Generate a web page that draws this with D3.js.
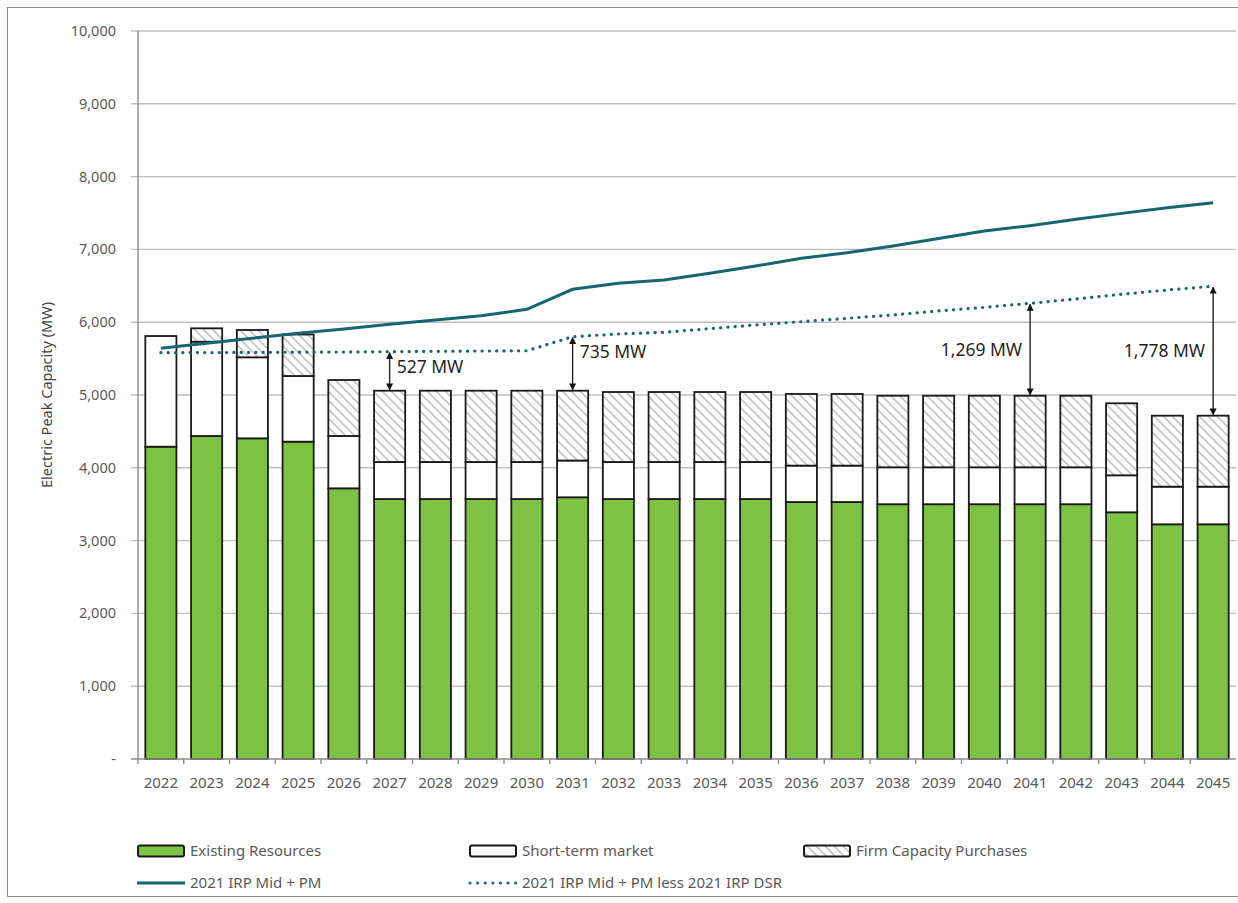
<!DOCTYPE html>
<html>
<head>
<meta charset="utf-8">
<script src="https://cdn.jsdelivr.net/npm/d3@7"></script>
<style>
  body { margin: 0; background: #fff; }
  svg { display: block; font-family: "Noto Sans", "Open Sans", sans-serif; }
</style>
</head>
<body>
<div id="chart"></div>
<script>
const years = ['2022','2023','2024','2025','2026','2027','2028','2029','2030','2031','2032','2033',
               '2034','2035','2036','2037','2038','2039','2040','2041','2042','2043','2044','2045'];

const existingResources = [4290,4437,4405,4359,3718,3571,3571,3571,3571,3595,3571,3571,
                           3571,3571,3530,3530,3500,3500,3500,3500,3500,3389,3224,3224];
const shortTermMarket   = [1520,1295,1113,902,719,509,509,509,509,505,509,509,
                           509,509,500,500,507,507,507,507,507,508,517,517];
const firmPurchases     = [0,184,375,570,769,979,979,979,979,959,961,961,
                           961,961,984,984,983,983,983,983,983,989,975,975];

const irpMidPM          = [5641,5710,5779,5848,5907,5971,6030,6089,6177,6452,6534,6580,
                           6672,6772,6877,6955,7047,7150,7253,7326,7413,7495,7573,7641];
const irpMidPMlessDSR   = [5581,5583,5585,5588,5591,5595,5600,5604,5608,5801,5838,5861,
                           5911,5962,6007,6053,6099,6154,6204,6259,6319,6383,6442,6494];

const yTicks = [0,1000,2000,3000,4000,5000,6000,7000,8000,9000,10000];

const gapNotes = [
    { year: '2027', text: '527 MW', side: 'right' },
    { year: '2031', text: '735 MW', side: 'right' },
    { year: '2041', text: '1,269 MW', side: 'left' },
    { year: '2045', text: '1,778 MW', side: 'left' }
];

const COLORS = {
    existing: '#7dc242',
    teal: '#17666f',
    grid: '#c0c0c0',
    axisText: '#595959',
    hatch: '#c4c4c4'
};

const width = 1238, height = 903;
const margin = { left: 138, right: 2, top: 31, bottom: 144 };

const svg = d3.select('#chart').append('svg')
    .attr('width', width)
    .attr('height', height);

// outer frame
svg.append('rect')
    .attr('x', 7.5).attr('y', 7.5)
    .attr('width', width).attr('height', 889)
    .attr('fill', 'none')
    .attr('stroke', '#8c8c8c');

const defs = svg.append('defs');
const pat = defs.append('pattern')
    .attr('id', 'hatch')
    .attr('patternUnits', 'userSpaceOnUse')
    .attr('width', 9).attr('height', 9);
pat.append('rect').attr('width', 9).attr('height', 9).attr('fill', '#fff');
pat.append('path')
    .attr('d', 'M-2,-2 L11,11 M-2,7 L2,11 M7,-2 L11,2')
    .attr('stroke', COLORS.hatch)
    .attr('stroke-width', 1.6);

const x = d3.scaleBand()
    .domain(years)
    .range([margin.left, width - margin.right])
    .paddingInner(0.32)
    .paddingOuter(0.16);

const y = d3.scaleLinear()
    .domain([0, 10000])
    .range([height - margin.bottom, margin.top]);

// gridlines
svg.append('g')
    .selectAll('line')
    .data(yTicks.slice(1))
    .join('line')
    .attr('x1', margin.left - 7)
    .attr('x2', width - margin.right)
    .attr('y1', d => y(d)).attr('y2', d => y(d))
    .attr('stroke', COLORS.grid)
    .attr('stroke-width', 1.4);

// y axis labels
svg.append('g')
    .selectAll('text')
    .data(yTicks)
    .join('text')
    .attr('x', margin.left - 22)
    .attr('y', d => y(d))
    .attr('dy', '0.35em')
    .attr('text-anchor', 'end')
    .attr('font-size', 14.5)
    .attr('fill', COLORS.axisText)
    .text(d => d === 0 ? '-' : d3.format(',')(d));

svg.append('text')
    .attr('transform', `translate(47,${y(5000)}) rotate(-90)`)
    .attr('dy', '0.35em')
    .attr('text-anchor', 'middle')
    .attr('font-size', 14.5)
    .attr('fill', '#404040')
    .text('Electric Peak Capacity (MW)');

// stacked bars
const rows = years.map((yr, i) => ({
    year: yr,
    existing: existingResources[i],
    short: shortTermMarket[i],
    firm: firmPurchases[i]
}));

const stack = d3.stack().keys(['existing', 'short', 'firm']);
const series = stack(rows);
const fills = { existing: COLORS.existing, short: '#fff', firm: 'url(#hatch)' };

svg.append('g')
    .selectAll('g')
    .data(series)
    .join('g')
    .attr('fill', d => fills[d.key])
    .selectAll('rect')
    .data(d => d.filter(s => s[1] - s[0] > 0))
    .join('rect')
    .attr('x', d => x(d.data.year))
    .attr('width', x.bandwidth())
    .attr('y', d => y(d[1]))
    .attr('height', d => y(d[0]) - y(d[1]))
    .attr('stroke', '#1a1a1a')
    .attr('stroke-width', 1.8);

// axes lines
const x0 = margin.left, xEnd = width - margin.right, yBase = y(0);
svg.append('line')
    .attr('x1', x0).attr('x2', x0)
    .attr('y1', y(10000)).attr('y2', yBase)
    .attr('stroke', '#8c8c8c').attr('stroke-width', 1.4);
svg.append('line')
    .attr('x1', x0 - 7).attr('x2', xEnd)
    .attr('y1', yBase).attr('y2', yBase)
    .attr('stroke', '#8c8c8c').attr('stroke-width', 1.4);

// x ticks between categories
const gap = (x.step() - x.bandwidth()) / 2;
svg.append('g')
    .selectAll('line')
    .data(years)
    .join('line')
    .attr('x1', d => x(d) - gap)
    .attr('x2', d => x(d) - gap)
    .attr('y1', yBase).attr('y2', yBase + 5)
    .attr('stroke', '#8c8c8c').attr('stroke-width', 1.4);

svg.append('g')
    .selectAll('text')
    .data(years)
    .join('text')
    .attr('x', d => x(d) + x.bandwidth() / 2)
    .attr('y', yBase + 24)
    .attr('dy', '0.35em')
    .attr('text-anchor', 'middle')
    .attr('font-size', 15)
    .attr('fill', COLORS.axisText)
    .text(d => d);

// lines
const cx = d => x(d) + x.bandwidth() / 2;
const line = d3.line()
    .x((d, i) => cx(years[i]))
    .y(d => y(d));

svg.append('path')
    .datum(irpMidPM)
    .attr('d', line)
    .attr('fill', 'none')
    .attr('stroke', COLORS.teal)
    .attr('stroke-width', 3);

svg.append('path')
    .datum(irpMidPMlessDSR)
    .attr('d', line)
    .attr('fill', 'none')
    .attr('stroke', COLORS.teal)
    .attr('stroke-width', 3.2)
    .attr('stroke-linecap', 'round')
    .attr('stroke-dasharray', '0.1 7.2');

// gap annotations
defs.append('marker')
    .attr('id', 'arrowHead')
    .attr('viewBox', '0 0 10 10')
    .attr('refX', 9).attr('refY', 5)
    .attr('markerWidth', 5).attr('markerHeight', 5)
    .attr('markerUnits', 'strokeWidth')
    .attr('orient', 'auto-start-reverse')
    .append('path')
    .attr('d', 'M0,0 L10,5 L0,10 Z')
    .attr('fill', '#111');

gapNotes.forEach(note => {
    const i = years.indexOf(note.year);
    const top = existingResources[i] + shortTermMarket[i] + firmPurchases[i];
    const yA = y(irpMidPMlessDSR[i]);
    const yB = y(top);
    const xc = cx(note.year);
    svg.append('line')
        .attr('x1', xc).attr('x2', xc)
        .attr('y1', yA + 1).attr('y2', yB - 1)
        .attr('stroke', '#222')
        .attr('stroke-width', 1.4)
        .attr('marker-start', 'url(#arrowHead)')
        .attr('marker-end', 'url(#arrowHead)');
    const ty = note.side === 'right' ? yA + 15 : (yA + yB) / 2;
    svg.append('text')
        .attr('x', note.side === 'right' ? xc + 7 : xc - 8)
        .attr('y', ty)
        .attr('dy', '0.35em')
        .attr('text-anchor', note.side === 'right' ? 'start' : 'end')
        .attr('font-size', 17.5)
        .attr('fill', '#1f1f1f')
        .text(note.text);
});

// legend
const legendItems = [
    { label: 'Existing Resources', type: 'rect', fill: COLORS.existing, col: 0, row: 0 },
    { label: 'Short-term market', type: 'rect', fill: '#fff', col: 1, row: 0 },
    { label: 'Firm Capacity Purchases', type: 'rect', fill: 'url(#hatch)', col: 2, row: 0 },
    { label: '2021 IRP Mid + PM', type: 'solid', col: 0, row: 1 },
    { label: '2021 IRP Mid + PM less 2021 IRP DSR', type: 'dot', col: 1, row: 1 }
];
const colX = [137, 469, 803];
const rowY = [851, 883];

const lg = svg.append('g')
    .selectAll('g')
    .data(legendItems)
    .join('g')
    .attr('transform', d => `translate(${colX[d.col]},${rowY[d.row]})`);

lg.filter(d => d.type === 'rect')
    .append('rect')
    .attr('x', 1).attr('y', -5.5)
    .attr('width', 46).attr('height', 11)
    .attr('rx', 2)
    .attr('fill', d => d.fill)
    .attr('stroke', '#1a1a1a')
    .attr('stroke-width', 2);

lg.filter(d => d.type === 'solid')
    .append('line')
    .attr('x1', 0).attr('x2', 48)
    .attr('stroke', COLORS.teal)
    .attr('stroke-width', 3);

lg.filter(d => d.type === 'dot')
    .append('line')
    .attr('x1', 1).attr('x2', 47)
    .attr('stroke', COLORS.teal)
    .attr('stroke-width', 3)
    .attr('stroke-linecap', 'round')
    .attr('stroke-dasharray', '0.1 7.5');

lg.append('text')
    .attr('x', 53)
    .attr('dy', '0.35em')
    .attr('font-size', 15)
    .attr('fill', COLORS.axisText)
    .text(d => d.label);
</script>
</body>
</html>
